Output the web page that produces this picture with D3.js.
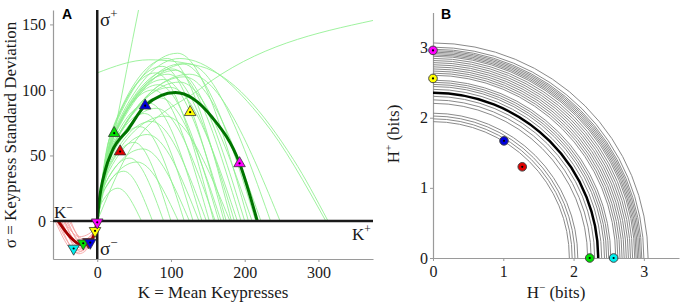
<!DOCTYPE html>
<html>
<head>
<meta charset="utf-8">
<script src="https://cdn.jsdelivr.net/npm/d3@7"></script>
<style>
  body { margin: 0; background: #fff; }
  svg { display: block; }
</style>
</head>
<body>
<svg id="chart" width="680" height="303"></svg>
<script>
document.addEventListener("DOMContentLoaded", function() {

    // Data
    ///

    // Panel A ticks
    const aXTicks = [0, 100, 200, 300];
    const aYTicks = [0, 50, 100, 150];

    // Panel A: light green curves, [K, sigma] points
    const greenCurves = [
        [[0,0],[6,14],[28,25],[60,0]],
        [[0,0],[7,21],[36,38],[75,0]],
        [[0,0],[9,26],[44,48],[90,0]],
        [[0,0],[10,33],[50,60],[100,0]],
        [[0,0],[11,25],[54,45],[110,0]],
        [[0,0],[12,40],[58,72],[118,0]],
        [[0,0],[12,30],[62,55],[125,0]],
        [[0,0],[13,45],[64,82],[130,0]],
        [[0,0],[14,36],[68,66],[138,0]],
        [[0,0],[14,50],[70,90],[142,0]],
        [[0,0],[15,42],[73,76],[148,0]],
        [[0,0],[15,55],[76,100],[152,0]],
        [[0,0],[16,62],[79,113],[158,0]],
        [[0,0],[16,47],[80,86],[160,0]],
        [[0,0],[17,57],[83,104],[165,0]],
        [[0,0],[17,52],[85,94],[168,0]],
        [[0,0],[18,65],[88,118],[172,0]],
        [[0,0],[18,59],[90,108],[175,0]],
        [[0,0],[18,44],[92,80],[180,0]],
        [[0,0],[19,68],[95,124],[182,0]],
        [[0,0],[19,62],[96,112],[186,0]],
        [[0,0],[20,56],[99,102],[190,0]],
        [[0,0],[20,64],[102,116],[195,0]],
        [[0,0],[21,63],[106,115],[200,0]],
        [[0,0],[22,70],[109,128],[205,0]],
        [[0,0],[22,58],[112,106],[210,0]],
        [[0,0],[23,66],[115,120],[215,0]],
        [[0,0],[24,60],[118,110],[222,0]],
        [[0,0],[24,66],[122,120],[235,0]],
        [[0,0],[25,62],[125,112],[248,0]],
        [[0,113],[70,123],[140,118],[266,47],[313,0]],
        [[0,0],[22,68],[112,124],[225,77],[310,0]],
        [[0,0],[24,69],[56,161],[90,250]],
        [[0,0],[40,50],[140,101],[374,153]]
    ];
    // Panel A: mean curve (thick)
    const greenMean = [[0,0],[2,12],[11,39],[20,53],[42,70],[65,88],[106,98],[156,79],[193,44],[217,0]];

    // Panel A: light red curves (K-, sigma-)
    const redCurves = [
        [[-57,0],[-28,-24],[-6,-13],[0,0]],
        [[-55,0],[-27,-22],[-5,-12],[0,0]],
        [[-52,0],[-25,-25],[-5,-14],[0,0]],
        [[-50,0],[-24,-20],[-5,-11],[0,0]],
        [[-48,0],[-23,-23],[-5,-13],[0,0]],
        [[-46,0],[-22,-18],[-4,-10],[0,0]],
        [[-44,0],[-21,-21],[-4,-12],[0,0]],
        [[-42,0],[-20,-16],[-4,-9],[0,0]],
        [[-40,0],[-19,-19],[-4,-10],[0,0]],
        [[-38,0],[-18,-14],[-4,-8],[0,0]],
        [[-36,0],[-17,-17],[-3,-9],[0,0]],
        [[-50,0],[-26,-16],[-5,-9],[0,0]],
        [[-45,0],[-24,-12],[-5,-7],[0,0]]
    ];
    const redMean = [[-53,0],[-37,-12],[-22,-18],[-10,-16],[-3,-8],[0,0]];

    // Subjects (markers)
    const upName = ["green", "red", "blue", "yellow", "magenta"];
    const upK = [23, 31, 65, 126, 193];
    const upS = [67, 53, 88, 83, 44];

    const downName = ["red", "cyan", "green", "blue", "yellow", "magenta"];
    const downK = [-12, -32, -19, -9.5, -3, 0];
    const downS = [-16, -21, -17, -16.5, -7.5, -1];

    // Panel B
    const bTicks = [0, 1, 2, 3];
    const arcRadii = [1.94, 1.98, 2.02, 2.06, 2.20, 2.25, 2.30, 2.40, 2.44, 2.47, 2.50, 2.53,
                      2.60, 2.63, 2.66, 2.69, 2.72, 2.75, 2.78, 2.81, 2.84, 2.87, 2.89, 2.91,
                      2.93, 2.95, 2.97, 3.00, 3.06];
    const meanRadius = 2.35;

    const dotName = ["green", "cyan", "blue", "red", "yellow", "magenta"];
    const dotHminus = [2.23, 2.57, 1.01, 1.27, 0, 0];
    const dotHplus = [0, 0, 1.67, 1.30, 2.56, 2.96];

    // Display settings
    ///
    const colour = {green: "#00e000", red: "#e00000", blue: "#0000dd",
                    yellow: "#ffff00", magenta: "#ff00ff", cyan: "#00f0f0"};
    const serif = "Liberation Serif, Times New Roman, serif";
    const sans = "Liberation Sans, Arial, sans-serif";

    const svg = d3.select("#chart");

    ////////// Panel A //////////

    const xA = d3.scaleLinear().domain([-60, 374]).range([53, 373]);
    const yA = d3.scaleLinear().domain([-29, 161]).range([259, 10]);

    svg.append("clipPath").attr("id", "clipA")
        .append("rect")
        .attr("x", 53).attr("y", 10)
        .attr("width", 320).attr("height", 249);

    const gA = svg.append("g");

    function styleAxis(g) {
        g.attr("font-family", serif).attr("font-size", 16);
        g.select(".domain").attr("stroke", "#9a9a9a").attr("stroke-width", 1.2);
        g.selectAll(".tick line").attr("stroke", "#9a9a9a");
        g.selectAll(".tick text")
            .attr("fill", "#1a1a1a")
            .attr("font-family", serif)
            .attr("font-size", 16);
    }

    gA.append("g")
        .attr("transform", "translate(53,0)")
        .call(d3.axisLeft(yA).tickValues(aYTicks).tickSize(3).tickSizeOuter(0).tickPadding(4))
        .call(styleAxis);

    gA.append("g")
        .attr("transform", "translate(0,259)")
        .call(d3.axisBottom(xA).tickValues(aXTicks).tickSize(3).tickSizeOuter(0).tickPadding(5))
        .call(styleAxis);

    const lineA = d3.line()
        .x(d => xA(d[0]))
        .y(d => yA(d[1]))
        .curve(d3.curveMonotoneX);

    const plotA = gA.append("g").attr("clip-path", "url(#clipA)");

    plotA.selectAll("path.green")
        .data(greenCurves)
        .join("path")
        .attr("class", "green")
        .attr("d", lineA)
        .attr("fill", "none")
        .attr("stroke", "#8ef08e")
        .attr("stroke-opacity", 0.85)
        .attr("stroke-width", 1);

    plotA.selectAll("path.red")
        .data(redCurves)
        .join("path")
        .attr("class", "red")
        .attr("d", lineA)
        .attr("fill", "none")
        .attr("stroke", "#f59a9a")
        .attr("stroke-opacity", 0.8)
        .attr("stroke-width", 1);

    plotA.append("path")
        .datum(greenMean)
        .attr("d", lineA)
        .attr("fill", "none")
        .attr("stroke", "#007400")
        .attr("stroke-width", 3);

    plotA.append("path")
        .datum(redMean)
        .attr("d", lineA)
        .attr("fill", "none")
        .attr("stroke", "#a40000")
        .attr("stroke-width", 3);

    // black quadrant axes
    gA.append("line")
        .attr("x1", xA(0)).attr("x2", xA(0))
        .attr("y1", yA.range()[1]).attr("y2", yA.range()[0])
        .attr("stroke", "#1a1a1a").attr("stroke-width", 2.5);
    gA.append("line")
        .attr("x1", xA.range()[0]).attr("x2", xA.range()[1])
        .attr("y1", yA(0)).attr("y2", yA(0))
        .attr("stroke", "#1a1a1a").attr("stroke-width", 2.5);

    // triangles
    const tri = d3.symbol().type(d3.symbolTriangle).size(58);

    const upData = upName.map((n, i) => ({n: n, k: upK[i], s: upS[i]}));
    const downData = downName.map((n, i) => ({n: n, k: downK[i], s: downS[i]}));

    function drawTriangles(data, rot) {
        const g = gA.append("g").selectAll("g")
            .data(data)
            .join("g")
            .attr("transform", d => `translate(${xA(d.k)},${yA(d.s)}) rotate(${rot})`);
        g.append("path")
            .attr("d", tri)
            .attr("fill", d => colour[d.n])
            .attr("stroke", "#333")
            .attr("stroke-width", 0.8);
        g.append("circle")
            .attr("r", 1.1)
            .attr("fill", "#000");
    }
    drawTriangles(upData, 0);
    drawTriangles(downData, 180);

    // labels
    function supLabel(x, y, base, sup, size) {
        const t = svg.append("text")
            .attr("x", x).attr("y", y)
            .attr("font-family", serif)
            .attr("font-size", size)
            .attr("fill", "#1a1a1a");
        t.append("tspan").text(base);
        t.append("tspan").attr("dy", -size * 0.42).attr("font-size", size * 0.68).text(sup);
    }
    supLabel(100, 26, "σ", "+", 19);
    supLabel(100, 255, "σ", "−", 19);
    supLabel(54, 218, "K", "−", 17);
    supLabel(352, 240, "K", "+", 17);

    svg.append("text")
        .attr("x", 62).attr("y", 19)
        .attr("font-family", sans).attr("font-weight", "bold").attr("font-size", 14)
        .text("A");

    svg.append("text")
        .attr("x", 213).attr("y", 298)
        .attr("text-anchor", "middle")
        .attr("font-family", serif).attr("font-size", 17)
        .attr("fill", "#1a1a1a")
        .text("K = Mean Keypresses");

    svg.append("text")
        .attr("transform", "translate(16,135) rotate(-90)")
        .attr("text-anchor", "middle")
        .attr("font-family", serif).attr("font-size", 17)
        .attr("fill", "#1a1a1a")
        .text("σ = Keypress Standard Deviation");

    ////////// Panel B //////////

    const xB = d3.scaleLinear().domain([0, 3.5]).range([433, 679]);
    const yB = d3.scaleLinear().domain([0, 3.5]).range([258, 12.5]);

    const gB = svg.append("g");

    gB.append("g")
        .attr("transform", "translate(433,0)")
        .call(d3.axisLeft(yB).tickValues(bTicks).tickFormat(d3.format("d")).tickSize(3).tickSizeOuter(0).tickPadding(2))
        .call(styleAxis);

    gB.append("g")
        .attr("transform", "translate(0,258)")
        .call(d3.axisBottom(xB).tickValues(bTicks).tickFormat(d3.format("d")).tickSize(3).tickSizeOuter(0).tickPadding(5))
        .call(styleAxis);

    function quarter(r) {
        const p = d3.path();
        const cx = xB(0), cy = yB(0), R = xB(r) - xB(0);
        p.moveTo(cx, cy - R);
        p.arc(cx, cy, R, -Math.PI / 2, 0);
        return p.toString();
    }

    gB.append("g").selectAll("path")
        .data(arcRadii)
        .join("path")
        .attr("d", quarter)
        .attr("fill", "none")
        .attr("stroke", "#8a8a8a")
        .attr("stroke-width", 1);

    gB.append("path")
        .attr("d", quarter(meanRadius))
        .attr("fill", "none")
        .attr("stroke", "#000")
        .attr("stroke-width", 2.5);

    const dotData = dotName.map((n, i) => ({n: n, h: dotHminus[i], p: dotHplus[i]}));
    const dots = gB.append("g").selectAll("g")
        .data(dotData)
        .join("g")
        .attr("transform", d => `translate(${xB(d.h)},${yB(d.p)})`);
    dots.append("circle")
        .attr("r", 4.3)
        .attr("fill", d => colour[d.n])
        .attr("stroke", "#444")
        .attr("stroke-width", 1);
    dots.append("circle")
        .attr("r", 1.1)
        .attr("fill", "#000");

    svg.append("text")
        .attr("x", 441).attr("y", 19)
        .attr("font-family", sans).attr("font-weight", "bold").attr("font-size", 14)
        .text("B");

    const hx = svg.append("text")
        .attr("x", 556).attr("y", 298)
        .attr("text-anchor", "middle")
        .attr("font-family", serif).attr("font-size", 17)
        .attr("fill", "#1a1a1a");
    hx.append("tspan").text("H");
    hx.append("tspan").attr("dy", -7).attr("font-size", 11).text("−");
    hx.append("tspan").attr("dy", 7).text(" (bits)");

    const hy = svg.append("text")
        .attr("transform", "translate(399,134) rotate(-90)")
        .attr("text-anchor", "middle")
        .attr("font-family", serif).attr("font-size", 17)
        .attr("fill", "#1a1a1a");
    hy.append("tspan").text("H");
    hy.append("tspan").attr("dy", -7).attr("font-size", 11).text("+");
    hy.append("tspan").attr("dy", 7).text(" (bits)");

});
</script>
</body>
</html>
